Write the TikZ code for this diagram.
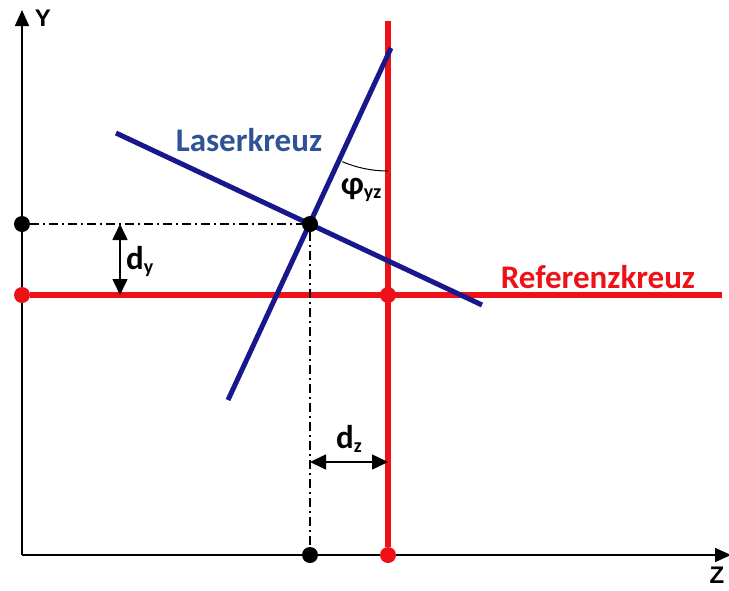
\documentclass[tikz,border=0pt]{standalone}
\usepackage{fontspec}
\setmainfont{Carlito}
\newfontfamily\axisfont{Liberation Sans}
\usepackage{xcolor}
\usetikzlibrary{arrows.meta, positioning}

\definecolor{refred}{RGB}{238,18,24}
\definecolor{laserblue}{RGB}{24,24,140}
\definecolor{labelblue}{RGB}{47,84,150}
\newcommand{\lowidx}[1]{\raisebox{-4pt}{\fontsize{20}{20}\selectfont #1}}

\begin{document}
\begin{tikzpicture}[
    x=1pt, y=-1pt,
    axis/.style={line width=1.6pt, -{Triangle[length=16pt, width=14pt]}},
    refline/.style={line width=6pt, draw=refred},
    laserline/.style={line width=5pt, draw=laserblue},
    helpline/.style={line width=1.3pt, dash pattern=on 9pt off 4pt on 2pt off 4pt},
    dot/.style={circle, fill=black, inner sep=0pt, minimum size=16pt},
    reddot/.style={dot, fill=refred},
    dist/.style={line width=1.6pt, {Triangle[length=16pt, width=15pt]}-{Triangle[length=16pt, width=15pt]}},
    lbl/.style={font=\fontsize{33}{36}\selectfont\bfseries, inner sep=0pt},
    axlbl/.style={font=\axisfont\fontsize{24}{26}\selectfont\bfseries, inner sep=0pt}
]
\useasboundingbox (0,0) rectangle (729,590);

% axes
\coordinate (origin) at (22,555);
\coordinate (ytip) at (22,10);
\coordinate (ztip) at (731,555);
\draw[axis] (origin) -- (ytip);
\draw[axis] (origin) -- (ztip);
\node[axlbl] (ylabel) at (43,18) {Y};
\node[axlbl] (zlabel) at (717,575) {Z};

% Referenzkreuz
\coordinate (reftop) at (388,21);
\coordinate (refright) at (722,295);
\node[reddot] (refleft) at (22,295) {};
\node[reddot] (refcenter) at (388,295) {};
\node[reddot] (refbottom) at (388,555) {};
\draw[refline] (refleft) -- (refright);
\draw[refline] (reftop) -- (refbottom);

% Laserkreuz
\coordinate (lasleft) at (116,133);
\coordinate (lasright) at (482,305);
\coordinate (laslow) at (228,400);
\coordinate (lashigh) at (391,48);
\draw[laserline] (lasleft) -- (lasright);
\draw[laserline] (laslow) -- (lashigh);

% Hilfslinien
\node[dot] (ydot) at (22,224) {};
\node[dot] (cross) at (310,224) {};
\node[dot] (zdot) at (310,555) {};
\draw[helpline] (ydot) -- (cross);
\draw[helpline] (cross) -- (zdot);

% Abstaende
\coordinate (dytop) at (120,224);
\coordinate (dybot) at (120,295);
\draw[dist] (dytop) -- (dybot);
\node[lbl, right=6pt of dytop, yshift=-37pt] (dylabel) {d\lowidx{y}};
\coordinate (dzleft) at (310,462);
\coordinate (dzright) at (388,462);
\draw[dist] (dzleft) -- (dzright);
\node[lbl] (dzlabel) at (349,439) {d\lowidx{z}};

% Winkel
\coordinate (apex) at (388,54);
\draw[line width=1pt] (apex) ++(113:117) arc[start angle=113, end angle=90, radius=117];
\node[lbl] (philabel) at (361,190) {φ\lowidx{yz}};

% Beschriftung
\node[lbl, text=labelblue] (laslabel) at (249,140) {Laserkreuz};
\node[lbl, text=refred] (reflabel) at (598,277) {Referenzkreuz};
\end{tikzpicture}
\end{document}
